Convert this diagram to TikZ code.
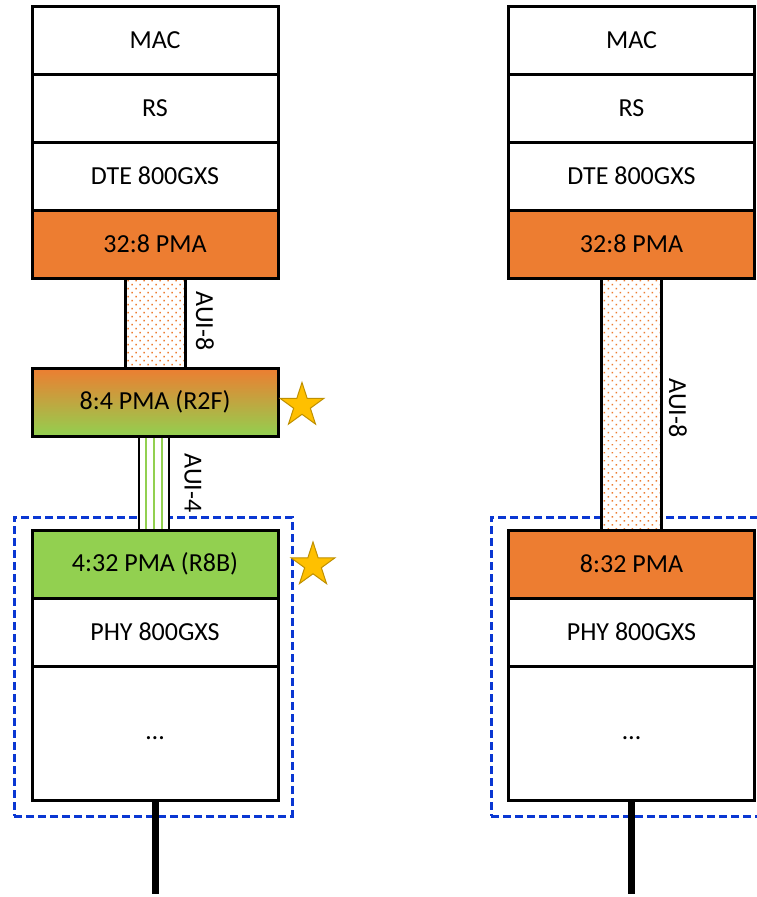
\documentclass[tikz,border=0pt]{standalone}
\usepackage{fontspec}
\setmainfont{Carlito}
\usetikzlibrary{shapes.geometric,patterns.meta}
\definecolor{pmaorange}{HTML}{ED7D31}
\definecolor{pmagreen}{HTML}{92D050}
\definecolor{stargold}{HTML}{FFC000}
\definecolor{staredge}{HTML}{BF9000}
\definecolor{dashblue}{RGB}{10,55,210}
\tikzset{
  layer/.style={draw=black, line width=3pt, minimum width=246pt, minimum height=68pt,
    inner sep=0pt, font=\fontsize{26}{31}\selectfont},
  whitebox/.style={layer, fill=white},
  orangebox/.style={layer, fill=pmaorange},
  greenbox/.style={layer, fill=pmagreen},
  aui8col/.style={draw=black, line width=3pt, minimum width=60pt, inner sep=0pt,
    preaction={fill=white},
    pattern={Dots[radius=1.05pt,distance=5.66pt,angle=45]}, pattern color=pmaorange},
  aui4col/.style={draw=black, line width=2.8pt, fill=white, minimum width=30pt, inner sep=0pt},
  lane/.style={draw=pmagreen, line width=1.2pt},
  auilabel/.style={rotate=-90, inner sep=0pt, font=\fontsize{26}{31}\selectfont},
  starmark/.style={star, star points=5, star point ratio=2.618, minimum size=46pt,
    inner sep=0pt, fill=stargold, draw=staredge, line width=1pt},
  phyframe/.style={draw=dashblue, line width=3pt, dash pattern=on 8pt off 4pt, inner sep=0pt},
  cable/.style={draw=black, line width=7pt}
}
\begin{document}
\begin{tikzpicture}[x=1pt,y=-1pt]
\clip (0,0) rectangle (757,897);
\fill[white] (0,0) rectangle (757,897);

% dashed PHY frames
\node[phyframe, minimum width=278pt, minimum height=299pt] (frame1) at (153,666.5) {};
\node[phyframe, minimum width=278pt, minimum height=299pt] (frame2) at (630,666.5) {};

% connector columns
\node[aui8col, minimum height=90pt] (aui8a) at (155,323) {};
\node[aui4col, minimum height=94pt] (aui4) at (154,483) {};
\draw[lane] ([xshift=-8pt]aui4.north) -- ([xshift=-8pt]aui4.south);
\draw[lane] (aui4.north) -- (aui4.south);
\draw[lane] ([xshift=8pt]aui4.north) -- ([xshift=8pt]aui4.south);
\node[aui8col, minimum height=252pt] (aui8b) at (631.5,404) {};

% left stack
\node[whitebox] (mac1) at (155,40.5) {MAC};
\node[whitebox] (rs1) at (155,108) {RS};
\node[whitebox] (dte1) at (155,176) {DTE 800GXS};
\node[orangebox] (pma1) at (155,244) {32:8 PMA};
\node[layer, top color=pmaorange, bottom color=pmagreen] (r2f) at (155,402) {8:4 PMA (R2F)};
\node[greenbox] (r8b) at (155,564) {4:32 PMA (R8B)};
\node[whitebox] (phy1) at (155,632) {PHY 800GXS};
\node[whitebox, minimum height=134pt] (dots1) at (155,733) {\strut…};

% right stack
\node[whitebox] (mac2) at (631.5,40.5) {MAC};
\node[whitebox] (rs2) at (631.5,108) {RS};
\node[whitebox] (dte2) at (631.5,176) {DTE 800GXS};
\node[orangebox] (pma2) at (631.5,244) {32:8 PMA};
\node[orangebox] (pma3) at (631.5,564) {8:32 PMA};
\node[whitebox] (phy2) at (631.5,632) {PHY 800GXS};
\node[whitebox, minimum height=134pt] (dots2) at (631.5,733) {\strut…};

% labels
\node[auilabel] (l1) at (205,321) {AUI-8};
\node[auilabel] (l2) at (193,483) {AUI-4};
\node[auilabel] (l3) at (678,408) {AUI-8};

% stars
\node[starmark] (s1) at (302,405.5) {};
\node[starmark] (s2) at (313,565) {};

% cables
\coordinate (e1) at (155,894);
\coordinate (e2) at (631.5,894);
\draw[cable] (dots1.south) -- (e1);
\draw[cable] (dots2.south) -- (e2);
\end{tikzpicture}
\end{document}
